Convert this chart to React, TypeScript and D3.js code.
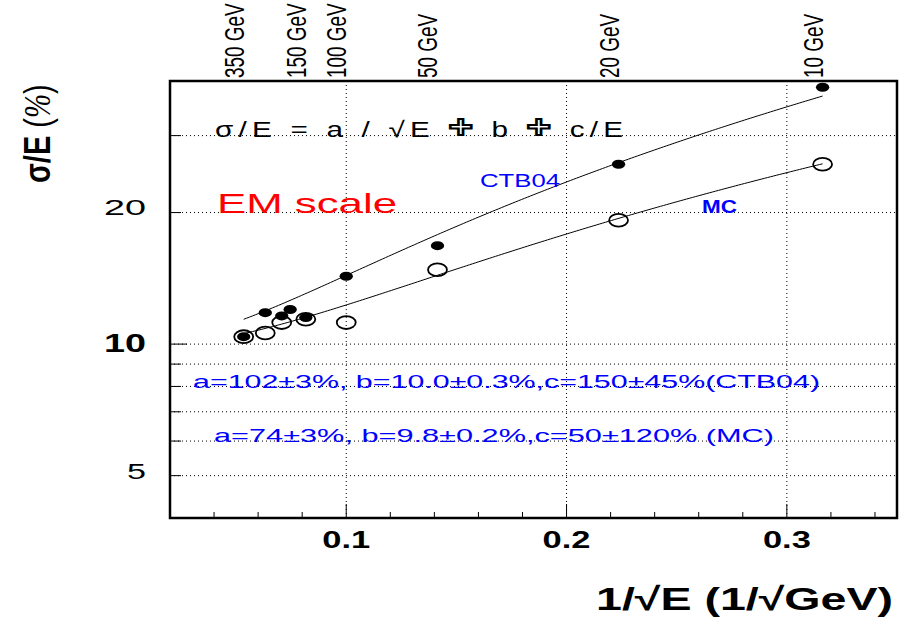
import React from "react";
import * as d3 from "d3";

// Beam energies (GeV) and measured resolution sigma/E (%)
const ctbEnergies = [350, 250, 200, 180, 150, 100, 50, 20, 10];
const ctbSigma = [10.4, 11.8, 11.6, 12.0, 11.5, 14.3, 16.8, 25.8, 38.7];
const mcEnergies = [350, 250, 200, 150, 100, 50, 20, 10];
const mcSigma = [10.4, 10.6, 11.2, 11.4, 11.2, 14.8, 19.2, 25.8];

// Fit parameters a (%·sqrt(GeV)), b (%), c (%·GeV)
const ctbFit = [102, 10.0, 150];
const mcFit = [74, 9.8, 50];

// Axis annotations
const energyLabels = [350, 150, 100, 50, 20, 10];
const xTickLabels = [0.1, 0.2, 0.3];
const yTickLabels = [20, 10, 5];
const yGridValues = [5, 6, 7, 8, 9, 10, 20, 30];

const W = 900;
const H = 619;
const left = 170;
const right = 897;
const top = 81;
const bottom = 518;
const SX = 1.48; // horizontal glyph stretch used for rotated labels and markers

const x = d3.scaleLinear().domain([0.02, 0.35]).range([left, right]);
const y = d3.scaleLog().domain([4, 40]).range([bottom, top]);

const invSqrt = (e: number) => 1 / Math.sqrt(e);
const resolution = (p: number[], u: number) =>
  Math.sqrt((p[0] * u) ** 2 + p[1] ** 2 + (p[2] * u * u) ** 2);

const FONT = "'Liberation Sans', Arial, Helvetica, sans-serif";

function T(props: {
  x: number;
  y: number;
  size: number;
  children: React.ReactNode;
  weight?: string | number;
  fill?: string;
  anchor?: string;
  rot?: boolean;
  sx?: number;
  textLength?: number;
  lengthAdjust?: string;
  family?: string;
}) {
  const sx = props.sx ?? 1;
  return (
    <text
      transform={`translate(${props.x},${props.y}) scale(${sx},1)${props.rot ? " rotate(-90)" : ""}`}
      fontFamily={props.family ?? FONT}
      fontSize={props.size}
      fontWeight={props.weight ?? "normal"}
      fill={props.fill ?? "#000"}
      textAnchor={props.anchor ?? "start"}
      textLength={props.textLength}
      lengthAdjust={props.lengthAdjust}
    >
      {props.children}
    </text>
  );
}

function fitPath(p: number[], eMax: number, eMin: number) {
  const u0 = invSqrt(eMax);
  const u1 = invSqrt(eMin);
  const us = d3.range(0, 201).map((i) => u0 + ((u1 - u0) * i) / 200);
  const line = d3
    .line<number>()
    .x((u) => x(u))
    .y((u) => y(resolution(p, u)));
  return line(us) ?? "";
}

export default function App() {
  const minorX = d3.range(0.02, 0.3501, 0.02).filter(
    (v) => !xTickLabels.some((t) => Math.abs(t - v) < 1e-6)
  );
  // outlined "plus" used as the quadrature-sum operator
  const oplus = (
    <tspan fontSize={31} fontWeight="bold" fill="#fff" stroke="#000" strokeWidth={2}>
      +
    </tspan>
  );
  return (
    <svg
      width={W}
      height={H}
      viewBox={`0 0 ${W} ${H}`}
      style={{ position: "absolute", left: 0, top: 0, background: "#fff" }}
    >
      <rect x={0} y={0} width={W} height={H} fill="#fff" />

      {/* dotted grid */}
      <g stroke="#000" strokeWidth={1} strokeDasharray="1 3" fill="none">
        {yGridValues.map((v) => (
          <line key={"gy" + v} x1={left} x2={right} y1={y(v)} y2={y(v)} />
        ))}
        {xTickLabels.map((v) => (
          <line key={"gx" + v} x1={x(v)} x2={x(v)} y1={top} y2={bottom} />
        ))}
      </g>

      {/* axis ticks */}
      <g stroke="#000" strokeWidth={1}>
        {yGridValues.map((v) => (
          <line key={"ty" + v} x1={left} x2={left + (v === 10 ? 17 : 11)} y1={y(v)} y2={y(v)} />
        ))}
        {xTickLabels.map((v) => (
          <line key={"tx" + v} x1={x(v)} x2={x(v)} y1={bottom} y2={bottom - 14} />
        ))}
        {minorX.map((v) => (
          <line key={"mx" + v} x1={x(v)} x2={x(v)} y1={bottom} y2={bottom - 6} />
        ))}
      </g>

      {/* fit curves */}
      <path d={fitPath(ctbFit, 350, 10)} fill="none" stroke="#000" strokeWidth={1} />
      <path d={fitPath(mcFit, 350, 10)} fill="none" stroke="#000" strokeWidth={1} />

      {/* MC points: open circles */}
      {mcEnergies.map((e, i) => (
        <ellipse
          key={"mc" + e}
          cx={x(invSqrt(e))}
          cy={y(mcSigma[i])}
          rx={6.4 * SX}
          ry={6.4}
          fill="none"
          stroke="#000"
          strokeWidth={1.8}
        />
      ))}

      {/* CTB04 points: filled circles */}
      {ctbEnergies.map((e, i) => (
        <ellipse
          key={"ctb" + e}
          cx={x(invSqrt(e))}
          cy={y(ctbSigma[i])}
          rx={4.5 * SX}
          ry={4.5}
          fill="#000"
        />
      ))}

      {/* frame */}
      <rect
        x={left}
        y={top}
        width={right - left}
        height={bottom - top}
        fill="none"
        stroke="#000"
        strokeWidth={2.5}
      />

      {/* energy labels on top */}
      {energyLabels.map((e) => (
        <T key={"el" + e} x={x(invSqrt(e))} y={78} size={18.9} rot sx={SX}>
          {`${e} GeV`}
        </T>
      ))}

      {/* x tick labels */}
      {xTickLabels.map((v) => (
        <T key={"xl" + v} x={x(v)} y={548} size={23.3} weight="bold" anchor="middle" sx={SX}>
          {d3.format(".1f")(v)}
        </T>
      ))}

      {/* y tick labels */}
      {yTickLabels.map((v) => (
        <T
          key={"yl" + v}
          x={146}
          y={y(v) + (v === 10 ? 8 : v === 20 ? 2 : 3)}
          size={v === 10 ? 25 : 22}
          weight={v === 10 ? "bold" : "normal"}
          anchor="end"
          textLength={v === 5 ? 19 : 42}
          lengthAdjust="spacingAndGlyphs"
        >
          {String(v)}
        </T>
      ))}

      {/* axis titles */}
      <T x={596} y={610} size={32} weight="bold" textLength={297} lengthAdjust="spacingAndGlyphs">
        1/√E (1/√GeV)
      </T>
      <T x={50} y={183} size={29} weight="bold" rot sx={1.3}>
        σ/E <tspan fontWeight="normal">(</tspan>
        <tspan fontWeight="normal" fontStyle="italic" fontFamily="'Liberation Serif', serif">%</tspan>
        <tspan fontWeight="normal">)</tspan>
      </T>

      {/* annotations */}
      <T x={215} y={137} size={22} sx={1.35} textLength={408 / 1.35} lengthAdjust="spacing">
        σ/E = a / √E {oplus} b {oplus} c/E
      </T>
      <T x={217} y={213} size={28.5} fill="#ff0000" textLength={180} lengthAdjust="spacingAndGlyphs">
        EM scale
      </T>
      <T x={480} y={187} size={18.6} fill="#0000ff" textLength={80} lengthAdjust="spacingAndGlyphs">
        CTB04
      </T>
      <T x={702} y={213} size={18.6} fill="#0000ff" weight="bold" textLength={35} lengthAdjust="spacingAndGlyphs">
        MC
      </T>
      <T x={193} y={388} size={18.6} fill="#0000ff" textLength={627} lengthAdjust="spacingAndGlyphs">
        a=102±3%, b=10.0±0.3%,c=150±45%(CTB04)
      </T>
      <T x={214} y={442} size={18.6} fill="#0000ff" textLength={560} lengthAdjust="spacingAndGlyphs">
        a=74±3%, b=9.8±0.2%,c=50±120% (MC)
      </T>
    </svg>
  );
}
